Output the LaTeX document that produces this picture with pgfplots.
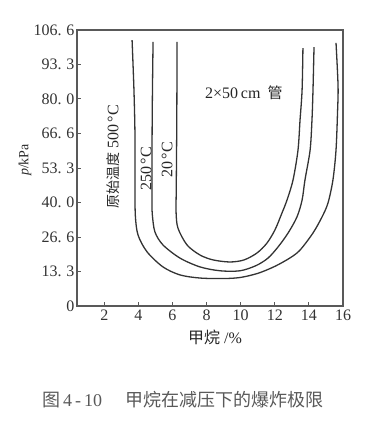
\documentclass[border=0pt]{standalone}
\usepackage{fontspec}
\setmainfont{Liberation Serif}
\newfontfamily\cjk{Noto Sans CJK SC}
\usepackage{pgfplots}
\pgfplotsset{compat=1.18}
\newcommand{\dd}{.\hspace{0.3em}}
\begin{document}
\begin{tikzpicture}
\path[use as bounding box] (-77pt,-121pt) rectangle (306pt,306pt);
\begin{axis}[
  at={(0pt,0pt)}, anchor=south west,
  scale only axis, width=266pt, height=276pt,
  xmin=0.4, xmax=16, ymin=0, ymax=106.6,
  xtick={2,4,6,8,10,12,14,16},
  xticklabels={2,4,6,8,10,12,14,16},
  ytick={0,13.3,26.6,40,53.3,66.6,80,93.3,106.6},
  yticklabels={0,13\dd 3,26\dd 6,40\dd 0,53\dd 3,66\dd 6,80\dd 0,93\dd 3,106\dd 6},
  tick pos=left, tick align=inside,
  major tick length=4pt,
  axis line style={draw=black!65, line width=1.1pt},
  tick style={draw=black!65, line width=0.9pt},
  ticklabel style={font=\fontsize{16}{16}\selectfont, text=black!80},
  yticklabel style={xshift=1pt},
  clip=false,
]
% 500 C
\addplot[smooth, line width=1.3pt, color=black!80] coordinates {
(3.63,102.7) (3.74,83.4) (3.80,66) (3.80,48) (3.82,35.1) (3.98,27.4)
(4.51,20.9) (5.44,15.1) (6.44,12.0) (7.61,10.8) (8.96,10.6) (9.96,11.0)
(11.0,12.6) (12.0,15.3) (12.9,18.6) (13.48,21.6) (14.24,28.2) (14.77,34.4)
(15.12,39.8) (15.41,48.7) (15.59,60.2) (15.68,75) (15.71,85) (15.59,101.6)};
% 250 C
\addplot[smooth, line width=1.3pt, color=black!80] coordinates {
(4.86,102.0) (4.82,80) (4.80,60.2) (4.80,40) (4.82,35.1) (4.97,28.6)
(5.44,23.6) (6.44,18.5) (7.61,15.1) (8.79,13.6) (9.96,13.6) (10.9,15.6)
(11.6,18.5) (12.19,22.8) (12.78,28.2) (13.30,34.4) (13.60,40.9) (13.77,48.7)
(14.07,60.2) (14.18,71.8) (14.24,83.4) (14.30,100.0)};
% 20 C
\addplot[smooth, line width=1.3pt, color=black!80] coordinates {
(6.27,102.0) (6.25,70) (6.22,45) (6.21,36.3) (6.32,30.1) (6.85,23.6)
(7.61,19.7) (8.38,17.8) (9.37,17.0) (10.2,17.8) (10.96,20.5) (11.54,24.3)
(12.01,29.4) (12.42,35.9) (12.72,41) (13.07,48.7) (13.36,60.2) (13.48,71.8)
(13.60,83.4) (13.65,99.6)};

\node[rotate=90, font=\fontsize{16}{16}\selectfont, text=black!85] at (axis cs:2.51,57.5) {{\cjk\fontsize{14}{14}\selectfont 原始温度} 500\,°C};
\node[rotate=90, font=\fontsize{16}{16}\selectfont, text=black!85] at (axis cs:4.45,52.9) {250\,°C};
\node[rotate=90, font=\fontsize{16}{16}\selectfont, text=black!85] at (axis cs:5.68,56.4) {20\,°C};
\node[font=\fontsize{16}{16}\selectfont, text=black!85] at (axis cs:10.19,82.3) {2×50\,cm\hspace{0.45em}{\cjk\fontsize{15}{15}\selectfont 管}};

\node[rotate=90, font=\fontsize{14}{14}\selectfont, text=black!85] at (axis cs:0.4,56.4) [yshift=52pt] {\textit{p}/kPa};
\node[font=\fontsize{16}{16}\selectfont, text=black!85] at (axis cs:8.49,0) [yshift=-31pt] {{\cjk 甲烷} /\%};
\node[font=\fontsize{18}{18}\selectfont, text=black!65] at (rel axis cs:0.398,0) [yshift=-94pt] {{\cjk 图}\,4\,-\,10\hspace{1.3em}{\cjk 甲烷在减压下的爆炸极限}};
\end{axis}
\end{tikzpicture}
\end{document}
